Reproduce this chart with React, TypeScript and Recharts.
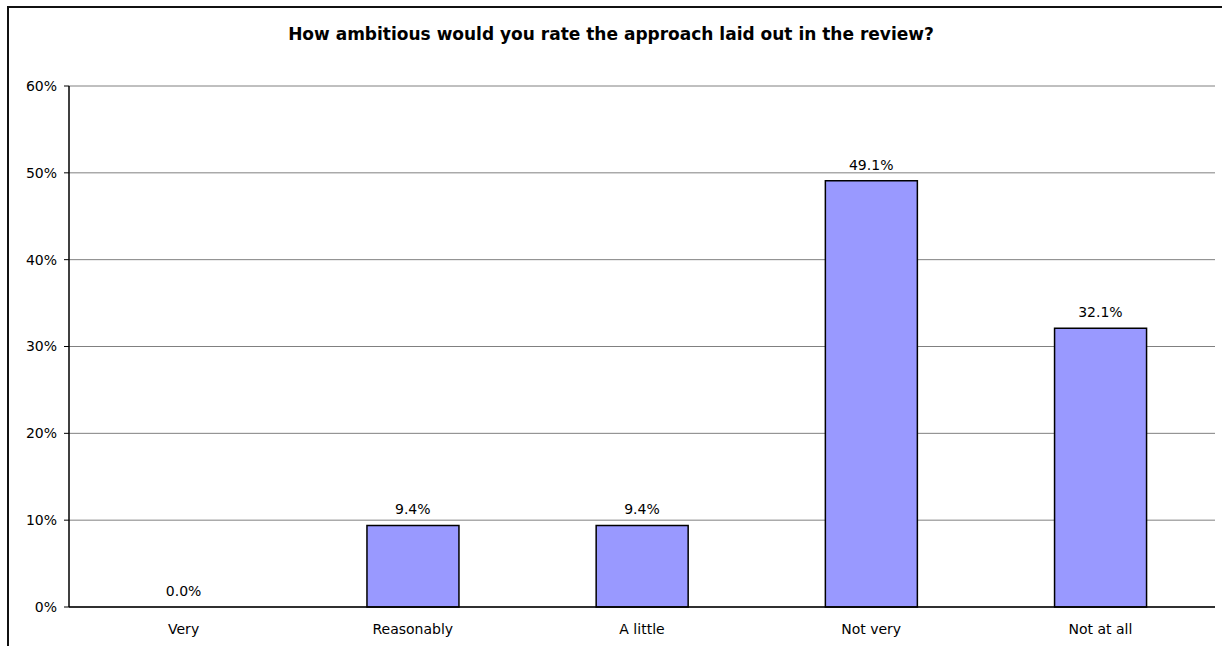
import React from 'react';
import { ComposedChart, Bar, Line, XAxis, YAxis, CartesianGrid, LabelList } from 'recharts';

const categories = ['Very', 'Reasonably', 'A little', 'Not very', 'Not at all'];
const values = [0.0, 0.094, 0.094, 0.491, 0.321];
const yTicks = [0, 0.1, 0.2, 0.3, 0.4, 0.5, 0.6];
const boundaryTicks = [0, 1, 2, 3, 4, 5];
const title = 'How ambitious would you rate the approach laid out in the review?';

const data = categories.map((c, i) => ({ name: c, value: values[i] }));

const FONT = '"DejaVu Sans", Arial, sans-serif';

export default function App() {
  return (
    <div style={{ position: 'fixed', left: 0, top: 0, width: 1222, height: 646, overflow: 'hidden', background: '#fff' }}>
      <div style={{ position: 'absolute', left: 7, top: 6, width: 1400, height: 800, border: '2px solid #111', boxSizing: 'border-box' }} />
      <div style={{ position: 'absolute', left: 0, top: 23, width: 1222, height: 22, lineHeight: '22px', textAlign: 'center', fontFamily: FONT, fontWeight: 'bold', fontSize: 17, color: '#000' }}>
        {title}
      </div>
      <div style={{ position: 'absolute', left: 0, top: 0 }}>
        <ComposedChart width={1222} height={646} data={data} margin={{ top: 86, right: 7, bottom: 4, left: 9 }} barCategoryGap="30%">
          <CartesianGrid vertical={false} stroke="#808080" strokeWidth={1} />
          <XAxis xAxisId="b" type="number" domain={[0, 5]} ticks={boundaryTicks} allowDataOverflow axisLine={false}
            tickLine={{ stroke: '#000' }} tickSize={5} height={0} tickFormatter={() => ''} />
          <XAxis dataKey="name" axisLine={{ stroke: '#000', strokeWidth: 1.5 }} tickLine={false} tickSize={0} tickMargin={17}
            height={35} interval={0} tick={{ fill: '#000', fontSize: 14, fontFamily: FONT }} />
          <YAxis domain={[0, 0.6]} ticks={yTicks} width={60} axisLine={{ stroke: '#000', strokeWidth: 1.5 }} tickLine={{ stroke: '#000' }}
            tickSize={5} tickMargin={7} tickFormatter={(v: number) => `${Math.round(v * 100)}%`}
            tick={{ fill: '#000', fontSize: 14, fontFamily: FONT }} />
          <YAxis yAxisId="r" orientation="right" domain={[0, 0.6]} width={0} tick={false} tickLine={false}
            axisLine={{ stroke: '#808080', strokeWidth: 2 }} />
          <Bar dataKey="value" fill="#9999FF" stroke="#000" strokeWidth={1.5} isAnimationActive={false} />
          <Line dataKey="value" stroke="none" dot={false} activeDot={false} isAnimationActive={false} legendType="none">
            <LabelList dataKey="value" position="top" offset={11} formatter={(v: number) => `${(v * 100).toFixed(1)}%`}
              style={{ fill: '#000', fontSize: 14, fontFamily: FONT }} />
          </Line>
        </ComposedChart>
      </div>
    </div>
  );
}
